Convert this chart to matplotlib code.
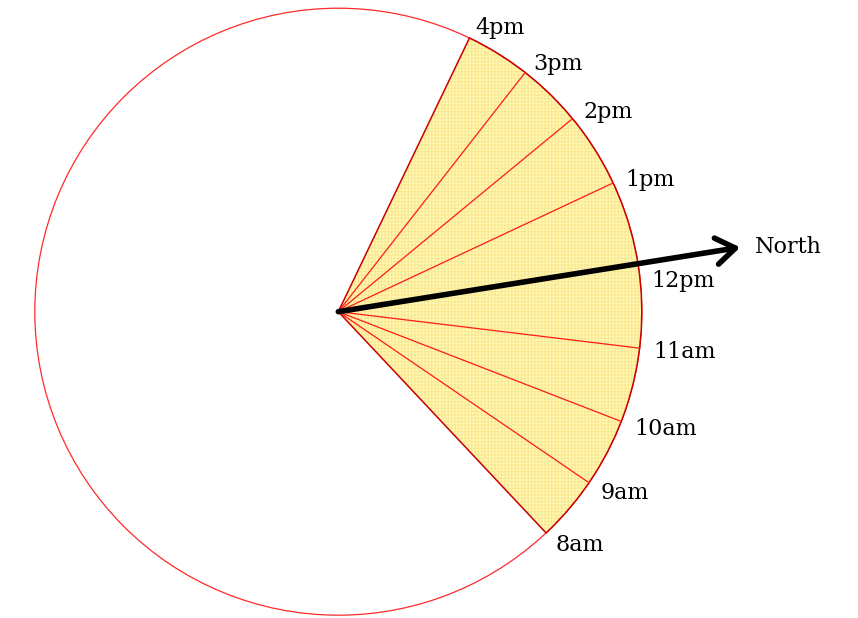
import matplotlib.pyplot as plt
import numpy as np
from matplotlib.patches import Circle, Wedge

# sun direction for each hour, degrees counter-clockwise from the +x axis
hours = ['8am', '9am', '10am', '11am', '12pm', '1pm', '2pm', '3pm', '4pm']
angles = [-46.8, -34.3, -21.2, -6.9, 9.1, 25.1, 39.5, 52.0, 64.4]
north_angle = 9.1
north_length = 1.341

plt.rcParams['hatch.linewidth'] = 0.7
fig = plt.figure(figsize=(8.58, 6.18), dpi=100)
ax = fig.add_axes([0, 0, 1, 1])
ax.set_xlim(-1.1147, 1.7124)
ax.set_ylim(-1.0092, 1.0270)
ax.set_aspect('equal')
ax.axis('off')

ax.add_patch(Circle((0, 0), 1, fill=False, edgecolor='#ff2a2a', lw=0.9))

# shaded sector between first and last hour
ax.add_patch(Wedge((0, 0), 1, angles[0], angles[-1], facecolor='#fff7bc',
                   edgecolor='#fae88c', hatch='+++++', lw=0))
ax.add_patch(Wedge((0, 0), 1, angles[0], angles[-1], fill=False,
                   edgecolor='#c80000', lw=1.1))

for i, (h, a) in enumerate(zip(hours, angles)):
    t = np.radians(a)
    if 0 < i < len(hours) - 1:
        ax.plot([0, np.cos(t)], [0, np.sin(t)], color='#ff1a1a', lw=0.9)
    x, y = 1.045 * np.cos(t), 1.045 * np.sin(t) - 0.008
    if h == '12pm':
        y -= 0.055  # keep clear of the north arrow
    ax.text(x, y, h, ha='left', va='center', fontsize=16,
            family='DejaVu Serif')

t = np.radians(north_angle)
tip = (north_length * np.cos(t), north_length * np.sin(t))
ax.annotate('', xy=tip, xytext=(0, 0),
            arrowprops=dict(arrowstyle='->, head_length=0.55, head_width=0.38',
                            lw=4.0, color='black', shrinkA=0, shrinkB=0,
                            mutation_scale=25, capstyle='round'))
ax.text(tip[0] + 0.05, tip[1], 'North', ha='left', va='center', fontsize=16,
        family='DejaVu Serif')

plt.savefig('out.png', dpi=100)
